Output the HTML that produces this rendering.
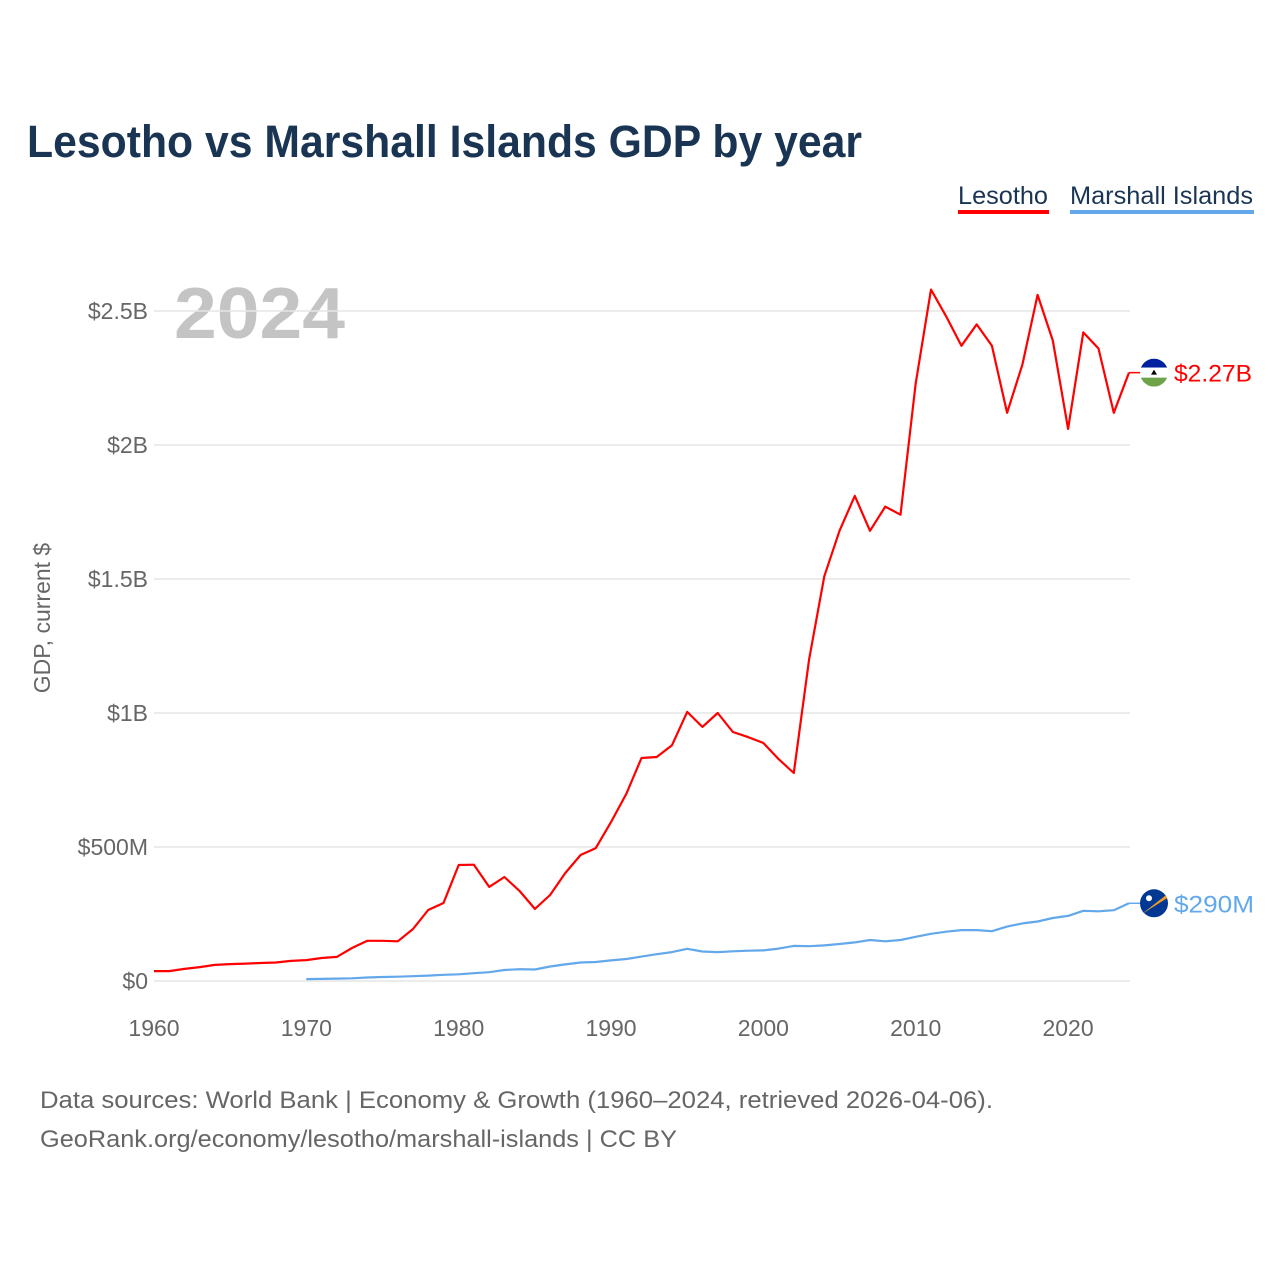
<!DOCTYPE html>
<html><head><meta charset="utf-8"><style>
body{margin:0;background:#fff;font-family:"Liberation Sans",sans-serif;}
#wrap{position:relative;width:1280px;height:1280px;overflow:hidden;}
</style></head><body>
<div id="wrap">
<svg id="chart" width="1280" height="1280">
<text x="27" y="157" font-size="45" font-weight="bold" fill="#1a3553" textLength="835" lengthAdjust="spacingAndGlyphs">Lesotho vs Marshall Islands GDP by year</text>
<g><text x="958" y="204" font-size="25" fill="#1a3553" textLength="90" lengthAdjust="spacingAndGlyphs">Lesotho</text><rect x="958" y="210" width="91" height="4" fill="#ff0000"/></g>
<g><text x="1070" y="204" font-size="25" fill="#1a3553" textLength="183" lengthAdjust="spacingAndGlyphs">Marshall Islands</text><rect x="1070" y="210" width="184" height="4" fill="#62a8ea"/></g>
<text x="174" y="338" font-size="72" font-weight="bold" fill="#c4c4c4" textLength="171" lengthAdjust="spacingAndGlyphs">2024</text>
<text transform="translate(50,618) rotate(-90)" text-anchor="middle" font-size="23" fill="#666">GDP, current $</text>
<g id="grid"></g><g id="yt"></g><g id="xt"></g><g id="lines"></g>
<text x="40" y="1108" font-size="24" fill="#666" textLength="953" lengthAdjust="spacingAndGlyphs">Data sources: World Bank | Economy &amp; Growth (1960–2024, retrieved 2026-04-06).</text>
<text x="40" y="1147" font-size="24" fill="#666" textLength="637" lengthAdjust="spacingAndGlyphs">GeoRank.org/economy/lesotho/marshall-islands | CC BY</text>
</svg>
</div>
<script>
const yTicks=[0,0.5,1,1.5,2,2.5];
const yTickLabels=["$0","$500M","$1B","$1.5B","$2B","$2.5B"];
const xTicks=[1960,1970,1980,1990,2000,2010,2020];
const lesothoYears=[];for(let y=1960;y<=2024;y++)lesothoYears.push(y);
const lesothoGdp=[0.037,0.037,0.045,0.052,0.06,0.063,0.065,0.067,0.069,0.075,0.078,0.086,0.09,0.123,0.15,0.15,0.148,0.194,0.265,0.291,0.433,0.434,0.351,0.388,0.336,0.269,0.321,0.403,0.47,0.496,0.593,0.698,0.832,0.836,0.88,1.004,0.948,1.0,0.929,0.91,0.888,0.828,0.776,1.2,1.51,1.68,1.81,1.68,1.77,1.74,2.23,2.58,2.48,2.37,2.45,2.37,2.12,2.3,2.56,2.39,2.06,2.42,2.36,2.12,2.27];
const marshallYears=[];for(let y=1970;y<=2024;y++)marshallYears.push(y);
const marshallGdp=[0.007,0.008,0.009,0.01,0.013,0.015,0.016,0.018,0.02,0.023,0.025,0.029,0.033,0.041,0.044,0.043,0.054,0.062,0.069,0.071,0.077,0.082,0.091,0.1,0.108,0.12,0.11,0.108,0.111,0.113,0.114,0.121,0.131,0.13,0.133,0.138,0.144,0.153,0.148,0.153,0.165,0.176,0.184,0.19,0.19,0.186,0.203,0.215,0.222,0.235,0.243,0.262,0.26,0.264,0.29];
const NS="http://www.w3.org/2000/svg";
const xS=y=>154+(y-1960)*(1129-154)/64;
const yS=v=>981-v*268;
function mk(t,a,p){const e=document.createElementNS(NS,t);for(const k in a)e.setAttribute(k,a[k]);p.appendChild(e);return e;}
const grid=document.getElementById('grid'),yt=document.getElementById('yt'),xt=document.getElementById('xt'),lines=document.getElementById('lines');
yTicks.forEach((v,i)=>{
 const l=mk('line',{x1:154,x2:1130,y1:yS(v),y2:yS(v),stroke:'#e6e6e6','stroke-width':1.5},grid);
 
 
 const t=mk('text',{x:148,y:yS(v)+8,'text-anchor':'end','font-size':23,fill:'#666'},yt);
 t.textContent=yTickLabels[i];
 
 
});
xTicks.forEach(v=>{
 const t=mk('text',{x:xS(v),y:1036,'text-anchor':'middle','font-size':23,fill:'#666'},xt);
 t.textContent=v;
 
 
});
function series(yrs,vals,col,name){
 const d=yrs.map((y,i)=>(i?'L':'M')+xS(y).toFixed(1)+','+yS(vals[i]).toFixed(1)).join('');
 const p=mk('path',{d:d,fill:'none',stroke:col,'stroke-width':2.2,'stroke-linejoin':'round'},lines);
 
 
}
series(lesothoYears,lesothoGdp,'#ff0000','lesotho-line');
series(marshallYears,marshallGdp,'#62a8ea','marshall-islands-line');
const lv=lesothoGdp[lesothoGdp.length-1],mv=marshallGdp[marshallGdp.length-1];
const ly=yS(lv),my=yS(mv);
mk('line',{x1:1129,x2:1140,y1:ly,y2:ly,stroke:'#ff0000','stroke-width':1.5},lines);
mk('line',{x1:1129,x2:1140,y1:my,y2:my,stroke:'#62a8ea','stroke-width':1.5},lines);
const fl=mk('g',{},lines);


mk('clipPath',{id:'c1'},fl);mk('circle',{cx:1154,cy:ly,r:14},document.getElementById('c1'));
const fg=mk('g',{'clip-path':'url(#c1)'},fl);
mk('rect',{x:1140,y:ly-14,width:28,height:9,fill:'#00209f'},fg);
mk('rect',{x:1140,y:ly-5,width:28,height:10,fill:'#fff'},fg);
mk('rect',{x:1140,y:ly+5,width:28,height:9,fill:'#6ea34a'},fg);
mk('path',{d:`M1151,${ly+2}h6l-3,-5z`,fill:'#000'},fg);
const fm=mk('g',{},lines);


mk('circle',{cx:1154,cy:my,r:14,fill:'#003893'},fm);
mk('path',{d:`M1143,${my+10}L1166,${my-8}L1164,${my-4}z`,fill:'#fff'},fm);
mk('path',{d:`M1143,${my+10}L1166,${my-8}L1167,${my-5}z`,fill:'#f39a1e'},fm);
mk('circle',{cx:1149,cy:my-5,r:3,fill:'#fff'},fm);
const t1=mk('text',{x:1174,y:ly+9,'font-size':24,fill:'#ff0000',textLength:78,lengthAdjust:'spacingAndGlyphs'},lines);t1.textContent='$2.27B';


const t2=mk('text',{x:1174,y:my+9,'font-size':24,fill:'#62a8ea',textLength:80,lengthAdjust:'spacingAndGlyphs'},lines);t2.textContent='$290M';


</script>
</body></html>
